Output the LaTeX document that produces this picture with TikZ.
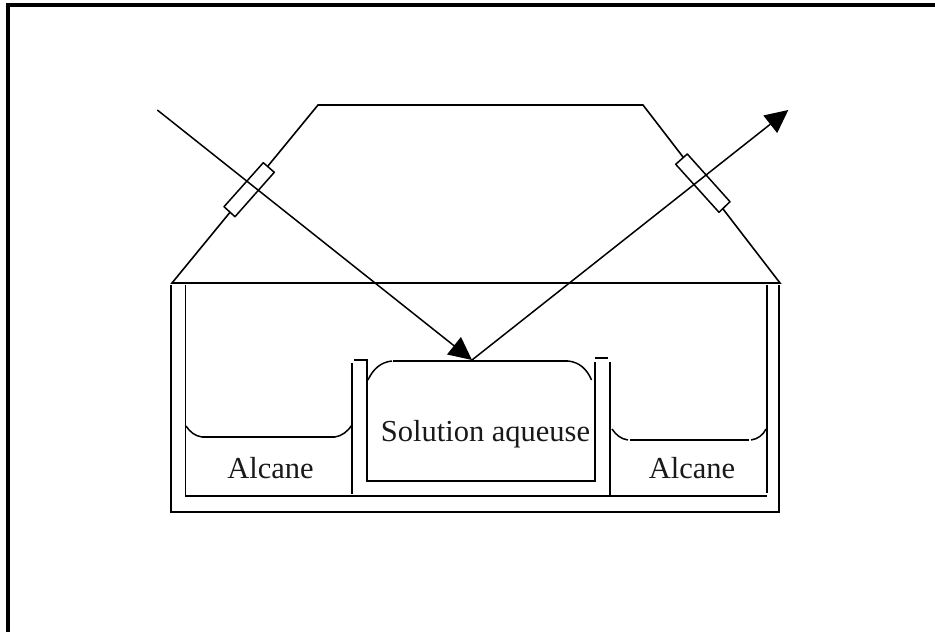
\documentclass[tikz,border=0pt]{standalone}
\usepackage{fontspec}
\setmainfont{Liberation Serif}
\usetikzlibrary{arrows.meta}
\tikzset{
  wall/.style={line width=1.6pt, line cap=butt, line join=miter},
  surface/.style={line width=1.5pt},
  window/.style={line width=1.5pt, draw=black, fill=white, line join=round},
  ray/.style={line width=1.5pt, -{Triangle[length=23pt,width=22pt]}},
  label/.style={font=\fontsize{30.5}{32}\selectfont, anchor=base, inner sep=0pt, text=black!90},
  frameline/.style={line width=3.6pt, line cap=butt, line join=miter}
}
\begin{document}
\begin{tikzpicture}[x=1pt,y=-1pt]
\useasboundingbox (0,0) rectangle (935,632);
% frame
\draw[frameline] (8,632) -- (8,4.7) -- (935,4.7);
% prism
\draw[wall] (172,283) -- (318,105) -- (643,105) -- (780,283) -- cycle;
% windows
\draw[window] (263.3,162.7) -- (274.3,172.3) -- (235,216.7) -- (224,206.7) -- cycle;
\draw[window] (687.3,154) -- (675.7,164.3) -- (719,212.3) -- (730,201.7) -- cycle;
% outer trough
\draw[wall] (170.7,285) -- (170.7,511.7) -- (779,511.7) -- (779,285);
\draw[wall] (185.3,285) -- (185.3,496) -- (766.7,496);
\draw[wall] (766.7,285) -- (766.7,493);
% central compartment
\draw[wall] (352,363) -- (352,494);
\draw[wall] (354,360) -- (367,360) -- (367,481) -- (595,481) -- (595,362);
\draw[wall] (595,358) -- (608,358);
\draw[wall] (610,362) -- (610,495);
% liquid surfaces
\draw[surface] (368,380) .. controls (373,369) and (381,362) .. (392,361);
\draw[surface] (393,361) -- (568,361);
\draw[surface] (568,361) .. controls (579,362) and (587,369) .. (591.5,380);
\draw[surface] (186,426) .. controls (190,432) and (195,436) .. (202,437);
\draw[surface] (202,437) -- (335,437);
\draw[surface] (335,437) .. controls (342,436) and (348,431) .. (352,425);
\draw[surface] (612,429) .. controls (616,435) and (621,439) .. (628,440);
\draw[surface] (630,440) -- (749,440);
\draw[surface] (751,440) .. controls (758,439) and (763,435) .. (766,429);
% rays
\coordinate (src) at (157.3,110);
\coordinate (hit) at (472,360);
\coordinate (out) at (788.3,110);
\draw[ray] (src) -- (hit);
\draw[ray] (hit) -- (out);
% labels
\node[label] (alcaneL) at (270.5,478) {Alcane};
\node[label] (sol) at (485.5,441) {Solution aqueuse};
\node[label] (alcaneR) at (692,478) {Alcane};
\end{tikzpicture}
\end{document}
